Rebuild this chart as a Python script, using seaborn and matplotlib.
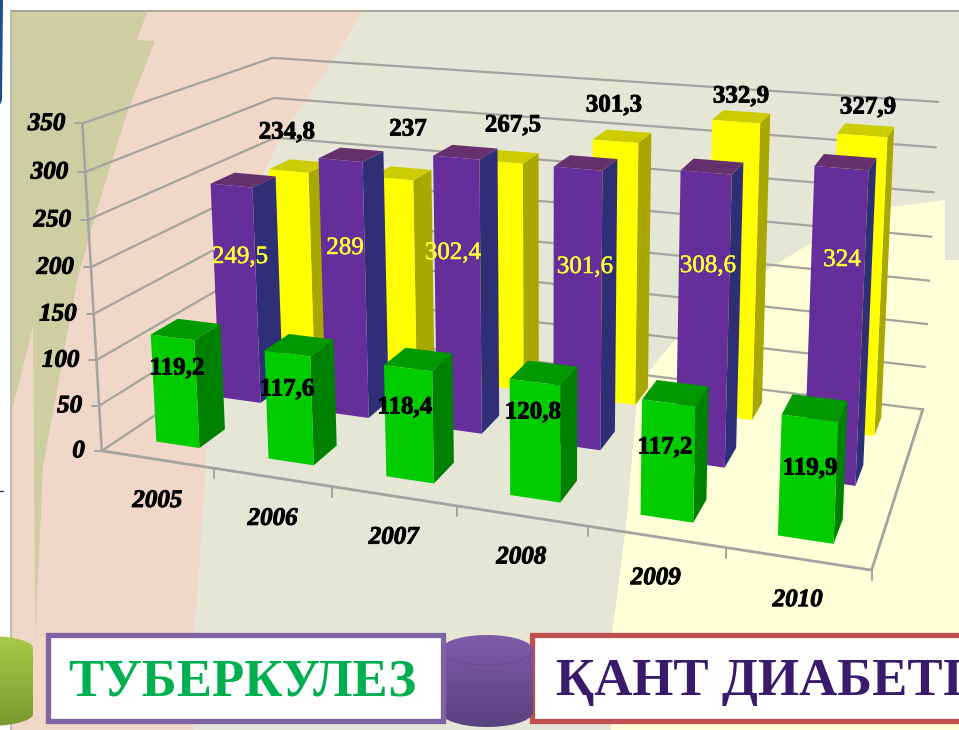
import numpy as np
import pandas as pd
import seaborn as sns
import matplotlib
matplotlib.use("Agg")
import matplotlib.pyplot as plt
import matplotlib.patheffects as pe
import matplotlib.transforms as mtransforms
from matplotlib.patches import PathPatch, Rectangle
from matplotlib.path import Path

# data
years = ["2005", "2006", "2007", "2008", "2009", "2010"]
tuberculosis = [119.2, 117.6, 118.4, 120.8, 117.2, 119.9]
diabetes = [249.5, 289, 302.4, 301.6, 308.6, 324]
third_series = [234.8, 237, 267.5, 301.3, 332.9, 327.9]
z_ticks = [0, 50, 100, 150, 200, 250, 300, 350]

# label text, comma decimals as on the slide
def fmt(v):
    return f"{v:g}".replace(".", ",")

# label centres in pixels
green_label_xy = [(177, 368), (287, 389), (405, 407), (533, 412), (665, 447), (810, 468)]
purple_label_xy = [(240, 257), (345, 248), (453, 253), (585, 267), (708, 266), (842, 260)]
yellow_label_xy = [(287, 132), (408, 129), (513, 125), (614, 105), (741, 96), (868, 107)]

# calibration of the chart box: world (slot, depth, value) -> pixel
world_pts = np.array([(0, 0, 0), (6, 0, 0), (6, 3, 0), (0, 3, 0), (0, 0, 350), (0, 3, 350), (6, 3, 350)], float)
pixel_pts = np.array([(100, 445), (873, 573), (922, 406), (283, 336), (83, 127), (272, 54), (938, 103)], float)

A, b = [], []
for (X, Y, Z), (u, v) in zip(world_pts, pixel_pts):
    A.append([X, Y, Z, 1, 0, 0, 0, 0, -u * X, -u * Y, -u * Z])
    A.append([0, 0, 0, 0, X, Y, Z, 1, -v * X, -v * Y, -v * Z])
    b += [u, v]
P = np.append(np.linalg.lstsq(np.array(A), np.array(b), rcond=None)[0], 1).reshape(3, 4)


def project(x, y, z):
    x, y, z = np.broadcast_arrays(np.asarray(x, float), np.asarray(y, float), np.asarray(z, float))
    w = P @ np.stack([x, y, z, np.ones_like(x)])
    return w[0] / w[2], w[1] / w[2]


class PlaneTransform(mtransforms.Transform):
    # seaborn's (category, value) plane at one depth of the 3d box
    input_dims = 2
    output_dims = 2

    def __init__(self, row_depth):
        super().__init__()
        self.row_depth = row_depth

    def transform_non_affine(self, values):
        u, v = project(values[:, 0] + 0.5, self.row_depth, values[:, 1])
        return np.column_stack([u, v])


sns.set_theme(style="white")
plt.rcParams["font.family"] = ["Liberation Serif", "DejaVu Serif"]

fig = plt.figure(figsize=(9.59, 7.30), dpi=100)
ax = fig.add_axes([0, 0, 1, 1])

# slide background
ax.fill([11, 959, 959, 11], [11, 11, 730, 730], color="#E5E6D5", lw=0, zorder=0)
ax.fill([11, 362, 340, 320, 285, 250, 220, 207, 197, 193, 193, 11],
        [11, 11, 50, 80, 130, 200, 300, 447, 600, 640, 730, 730], color="#F0D7C8", lw=0, zorder=0.1)
ax.fill([11, 147, 137, 155, 127, 100, 78, 68, 43, 37, 36, 35, 33, 13, 11],
        [11, 12, 40, 41, 113, 200, 277, 330, 467, 597, 640, 597, 327, 407, 407],
        color="#CFCEA2", lw=0, zorder=0.2)
ax.fill([945, 890, 840, 780, 763, 700, 650, 637, 627, 617, 611, 611, 959, 959, 945],
        [200, 207, 225, 262, 272, 310, 370, 400, 517, 597, 640, 730, 730, 260, 260],
        color="#FFFFD8", lw=0, zorder=0.3)
ax.plot([11, 959], [11, 11], color="#A8A898", lw=1.5, zorder=0.5)
ax.plot([11, 11], [11, 730], color="#B5B5A8", lw=1.2, zorder=0.5)
ax.fill([0, 3, 2, 0], [0, 0, 100, 105], color="#1F4E8C", lw=0, zorder=0.5)
ax.plot([0, 3], [491, 491], color="#333333", lw=1, zorder=0.5)

# walls and floor
GRID = "#A3A3A0"
for t in z_ticks:
    xs, ys = project([0, 0, 6], [0, 3, 3], [t, t, t])
    ax.plot(xs, ys, color=GRID, lw=1.6, zorder=1)
    tx, ty = project([0], [0], [t])
    ax.plot([tx[0] - 7, tx[0]], [ty[0], ty[0]], color=GRID, lw=1.4, zorder=1)
    ax.text(tx[0] - 17, ty[0], str(t), ha="right", va="center", fontsize=18, fontweight="bold",
            fontstyle="italic", color="black", zorder=60,
            path_effects=[pe.withStroke(linewidth=0.7, foreground="black")])
xs, ys = project([0, 0], [0, 0], [0, 350])
ax.plot(xs, ys, color=GRID, lw=1.8, zorder=1)
xs, ys = project([0, 6, 6], [0, 0, 3], [0, 0, 0])
ax.plot(xs, ys, color=GRID, lw=2, zorder=1)
for i in range(1, 7):
    tx, ty = project([i], [0], [0])
    ax.plot([tx[0], tx[0]], [ty[0], ty[0] + 10], color=GRID, lw=1.4, zorder=1)
for i, year in enumerate(years):
    tx, ty = project([i + 0.5], [0], [0])
    ax.text(tx[0], ty[0] + 41, year, ha="center", va="center", fontsize=18, fontweight="bold",
            fontstyle="italic", color="black", zorder=60,
            path_effects=[pe.withStroke(linewidth=0.7, foreground="black")])

# bars: seaborn draws the front faces, side and top follow from each patch
BAR_WIDTH = 0.39
BAR_DEPTH = 0.40
series = [
    (third_series, 2, "#FFFF00", "#A8A800", "#CCCC00", yellow_label_xy, "black", "bold"),
    (diabetes, 1, "#662E9B", "#2F2F78", "#66306F", purple_label_xy, "#FFFF33", "normal"),
    (tuberculosis, 0, "#00CC00", "#008000", "#009900", green_label_xy, "black", "bold"),
]
for values, row, front, side, top, label_xy, label_color, weight in series:
    df = pd.DataFrame({"year": years, "value": values})
    n_before = len(ax.patches)
    sns.barplot(data=df, x="year", y="value", color=front, saturation=1, width=BAR_WIDTH,
                linewidth=0, ax=ax, legend=False)
    y0 = row + 0.5 - BAR_DEPTH / 2
    y1 = row + 0.5 + BAR_DEPTH / 2
    plane = PlaneTransform(y0) + ax.transData
    for i, bar in enumerate(ax.patches[n_before:]):
        order = 10 * (3 - row) + i * 0.1
        bar.set_transform(plane)
        bar.set_zorder(order + 0.02)
        x0 = bar.get_x() + 0.5
        x1 = x0 + bar.get_width()
        h = bar.get_height()
        xs, ys = project([x1, x1, x1, x1], [y0, y1, y1, y0], [0, 0, h, h])
        ax.fill(xs, ys, color=side, lw=0, zorder=order)
        xs, ys = project([x0, x1, x1, x0], [y0, y0, y1, y1], [h, h, h, h])
        ax.fill(xs, ys, color=top, lw=0, zorder=order + 0.01)
    for v, (lx, ly) in zip(values, label_xy):
        stroke = 0.6 if weight == "bold" else 0.35
        ax.text(lx, ly, fmt(v), ha="center", va="center", fontsize=18, fontweight=weight,
                color=label_color, zorder=60,
                path_effects=[pe.withStroke(linewidth=stroke, foreground=label_color)])


# legend keys and names
def cylinder(cx, half_w, top, bottom, half_h, c_top, c_bottom, zorder, rim=True):
    t = np.linspace(np.pi, 0, 40)
    upper = np.column_stack([cx + half_w * np.cos(t), top + half_h - half_h * np.sin(t)])
    lower = np.column_stack([cx + half_w * np.cos(t[::-1]), bottom - half_h + half_h * np.sin(t[::-1])])
    outline = np.vstack([upper, lower, upper[:1]])
    shade = np.linspace(0, 1, 64)[:, None, None]
    rgb = (1 - shade) * np.array(matplotlib.colors.to_rgb(c_top)) + shade * np.array(matplotlib.colors.to_rgb(c_bottom))
    im = ax.imshow(rgb, extent=(cx - half_w, cx + half_w, bottom, top), aspect="auto", zorder=zorder)
    clip = PathPatch(Path(outline), transform=ax.transData, fc="none", ec="none")
    ax.add_patch(clip)
    im.set_clip_path(clip)
    if rim:
        ax.plot(upper[:, 0], 2 * (top + half_h) - upper[:, 1], color=c_bottom, lw=0.6, alpha=0.5, zorder=zorder + 0.1)


cylinder(-12, 45, 636, 726, 12, "#A6CA46", "#7A9A2F", 70, rim=False)
ax.add_patch(Rectangle((48, 635), 395, 86, fc="white", ec="#8064A2", lw=3.8, zorder=71))
ax.text(242, 695, "ТУБЕРКУЛЕЗ", ha="center", va="baseline", fontsize=38, fontweight="bold", color="#00B050", zorder=72)
ax.add_patch(Rectangle((532, 635), 500, 86, fc="white", ec="#C0504D", lw=3.8, zorder=70))
ax.text(556, 695, "ҚАНТ ДИАБЕТІ", ha="left", va="baseline", fontsize=38, fontweight="bold", color="#3A1A6A", zorder=72)
cylinder(487, 46, 635, 727, 15, "#7F5CA8", "#5A4280", 70.5)

ax.set_xlim(0, 959)
ax.set_ylim(730, 0)
ax.set_axis_off()
fig.savefig("out.png", dpi=100, facecolor="white")
